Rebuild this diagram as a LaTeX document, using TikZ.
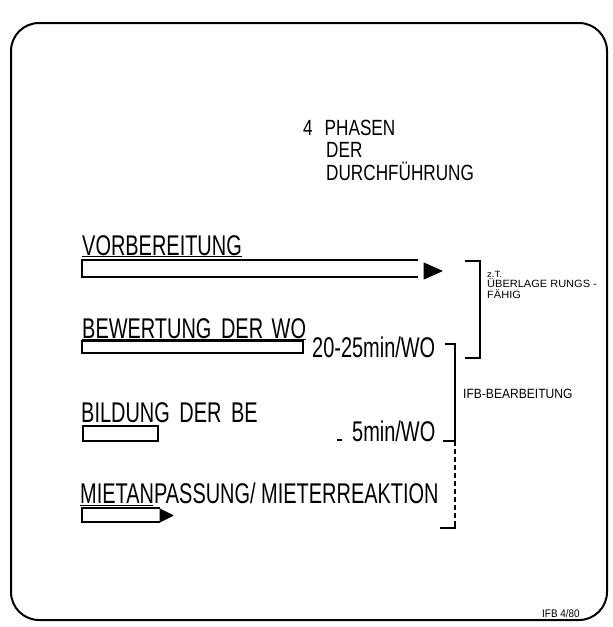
\documentclass[tikz,border=0pt]{standalone}
\usepackage{fontspec}
\setmainfont[FakeStretch=0.7]{Liberation Sans}
\newfontfamily\smallf[FakeStretch=0.9]{Liberation Sans}
\newfontfamily\notef[FakeStretch=1.05]{Liberation Sans}
\newfontfamily\titlef[FakeStretch=0.78]{Liberation Sans}
\begin{document}
\begin{tikzpicture}[x=1pt,y=-1pt,
  lbl/.style={anchor=base west,inner sep=0pt,font=\fontsize{28.5}{30}\selectfont},
  ttl/.style={anchor=base west,inner sep=0pt,font=\titlef\fontsize{22}{22}\selectfont},
  tim/.style={anchor=base west,inner sep=0pt,font=\fontsize{28.5}{30}\selectfont},
  note/.style={anchor=base west,inner sep=0pt,font=\notef\fontsize{10.5}{10.5}\selectfont},
  small/.style={anchor=base west,inner sep=0pt,font=\smallf\fontsize{12.5}{13}\selectfont},
  barline/.style={line width=2.4pt,line join=miter},
  brk/.style={line width=1.7pt},
  tip/.style={fill=black,draw=black,line width=0.8pt,line join=round}]
\useasboundingbox (0,0) rectangle (613,627);
% frame
\draw[line width=2pt,rounded corners=28pt] (11,23) rectangle (607,620);
% title
\node[ttl] (t1) at (303,135) {4\hspace{12pt}PHASEN};
\node[ttl] (t2) at (326,157) {DER};
\node[ttl] (t3) at (326,180) {DURCHFÜHRUNG};
% phase 1
\node[lbl] (p1) at (82,255) {VORBEREITUNG};
\draw[line width=1.2pt] ([yshift=-1.5pt]p1.base west) -- ([yshift=-1.5pt]p1.base east);
\draw[barline] (418,260) -- (82,260) -- (82,277) -- (418,277);
\draw[tip] (424,263) -- (442,271) -- (424,279) -- cycle;
% phase 2
\node[lbl] (p2) at (82,338) {BEWERTUNG\hspace{4pt} DER\hspace{3pt} WO};
\draw[line width=1.2pt] ([yshift=-1.5pt]p2.base west) -- ([yshift=-1.5pt]p2.base east);
\draw[barline] (82,341) rectangle (303,353);
\node[tim] (m1) at (312,357) {20-25min/WO};
% phase 3
\node[lbl] (p3) at (81,422) {BILDUNG\hspace{4pt} DER\hspace{4pt} BE};
\draw[barline] (83,426) rectangle (158,441);
\draw[line width=1.2pt] (337,440) -- (342,440);
\node[tim] (m2) at (352,441) {5min/WO};
% phase 4
\node[lbl] (p4) at (80,503) {MIETANPASSUNG/ MIETERREAKTION};
\draw[line width=1pt] (80,505) -- (153,505);
\draw[barline] (160,508) -- (82,508) -- (82,522) -- (160,522);
\draw[tip] (160,509) -- (173,515.5) -- (160,522) -- cycle;
% bracket 1
\draw[brk] (465,261) -- (480,261) -- (480,358) -- (465,358);
\node[note,font=\notef\fontsize{9}{9}\selectfont] (u1) at (487,277) {z.T.};
\node[note] (u2) at (487,287.5) {ÜBERLAGE RUNGS -};
\node[note] (u3) at (487,298) {FÄHIG};
% bracket 2
\draw[brk] (445,344) -- (455,344) -- (455,441) -- (443,441);
\draw[brk,dash pattern=on 5pt off 3pt] (455,441) -- (455,528);
\draw[brk] (455,524) -- (455,528) -- (440,528);
\node[small,font=\smallf\fontsize{13.4}{14}\selectfont] (ifb) at (463,398) {IFB-BEARBEITUNG};
% footer
\node[small,font=\smallf\fontsize{11}{12}\selectfont] (ft) at (542,617) {IFB 4/80};
\end{tikzpicture}
\end{document}
